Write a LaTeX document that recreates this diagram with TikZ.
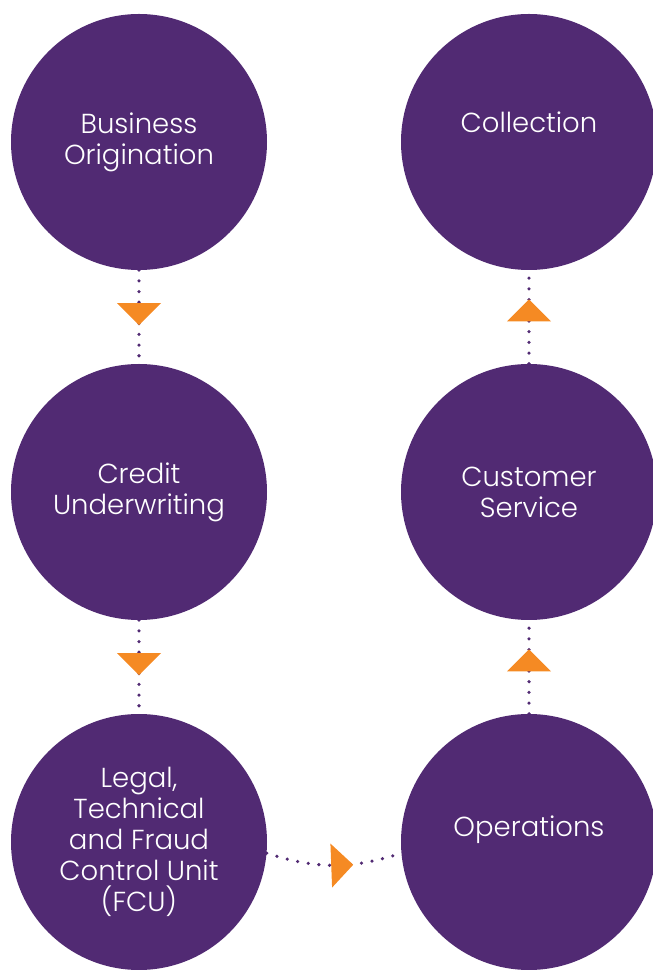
\documentclass[tikz,border=0pt]{standalone}
\usepackage{fontspec}
\setmainfont{Poppins}[UprightFont=* Light]
\usetikzlibrary{shapes.geometric}

\definecolor{stagepurple}{HTML}{512A73}
\definecolor{flowtodo}{HTML}{F58A23}

\tikzset{
  stage/.style={circle, fill=stagepurple, minimum size=256pt, inner sep=0pt,
    text=white, align=center, font=\fontsize{27.5}{31}\selectfont},
  link/.style={stagepurple, line width=3.6pt, line cap=round,
    dash pattern=on 0pt off 10.7pt},
  flowtip/.style={isosceles triangle, isosceles triangle stretches, fill=flowtodo,
    minimum width=44pt, minimum height=22pt, inner sep=0pt, sloped, allow upside down}
}

\begin{document}
\begin{tikzpicture}[x=1pt, y=1pt]
    \useasboundingbox (0,0) rectangle (653,970);

    %Stages, left column
    \node[stage] (orig) at (139,828) {Business\\Origination};
    \node[stage] (cred) at (139,478) {Credit\\Underwriting};
    \node[stage] (fcu)  at (139,128) {Legal,\\Technical\\and Fraud\\Control Unit\\(FCU)};

    %Stages, right column
    \node[stage] (ops)  at (529,128) {Operations\\\mbox{}};
    \node[stage] (serv) at (529,478) {Customer\\Service};
    \node[stage] (coll) at (529,828) {Collection\\[8pt]\mbox{}};

    %Links
    \draw[link] (orig) -- node[flowtip, pos=.45] (t1) {} (cred);
    \draw[link] (cred) -- node[flowtip, pos=.45] (t2) {} (fcu);
    \draw[link] (fcu.-5) to[bend right=18] node[flowtip, pos=.55] (t3) {} (ops.185);
    \draw[link] (ops) -- node[flowtip, pos=.55] (t4) {} (serv);
    \draw[link] (serv) -- node[flowtip, pos=.55] (t5) {} (coll);
\end{tikzpicture}
\end{document}
